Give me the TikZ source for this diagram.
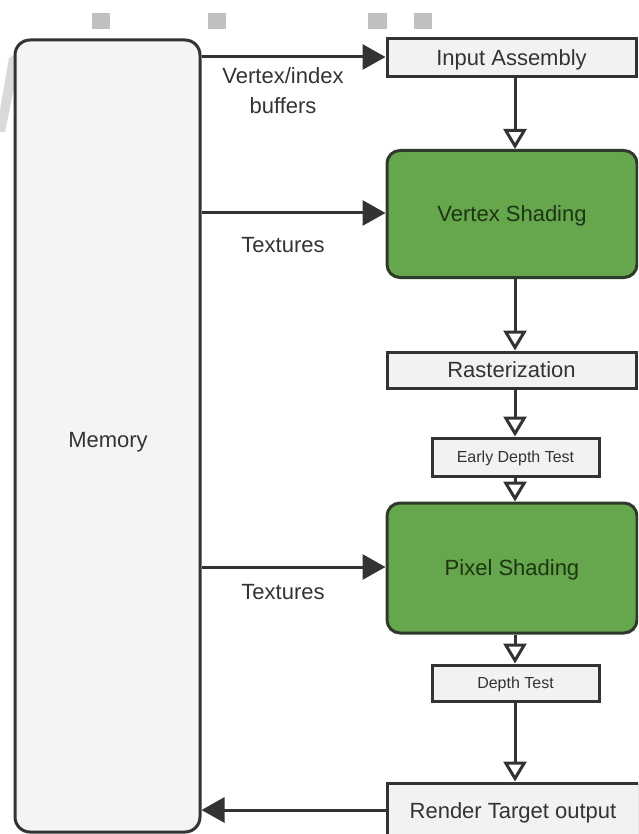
\documentclass[tikz,border=0pt]{standalone}
\usepackage{fontspec}
\setmainfont{Liberation Sans}
\usetikzlibrary{arrows.meta}
\definecolor{ink}{HTML}{333333}
\definecolor{boxgrey}{HTML}{F2F2F2}
\definecolor{memgrey}{HTML}{F4F4F4}
\definecolor{shadegreen}{HTML}{66A64C}
\definecolor{shadetext}{HTML}{1C3512}
\definecolor{shadeedge}{HTML}{2F3A2B}
\definecolor{marker}{HTML}{C0C0C0}
\tikzset{
  capcentred/.style={text height=15.8pt, text depth=0pt},
  smallcap/.style={text height=11.5pt, text depth=0pt},
  stage/.style={draw=ink, line width=3pt, fill=boxgrey, rectangle, inner sep=0pt,
    text=ink, font=\fontsize{22}{26}\selectfont, capcentred},
  smallstage/.style={stage, font=\fontsize{16}{19}\selectfont, smallcap},
  shader/.style={draw=shadeedge, line width=3pt, fill=shadegreen, rounded corners=13pt,
    rectangle, inner sep=0pt, text=shadetext, font=\fontsize{22}{26}\selectfont, capcentred},
  memory/.style={draw=ink, line width=3pt, fill=memgrey, rounded corners=15pt,
    rectangle, inner sep=0pt},
  flow/.style={draw=ink, line width=3pt, -{Triangle[open, length=20pt, width=23pt, fill=white]}},
  feed/.style={draw=ink, line width=3pt, -{Triangle[length=23pt, width=25pt]}},
  tag/.style={text=ink, font=\fontsize{22}{30}\selectfont, align=center, inner sep=0pt},
}
\begin{document}
\begin{tikzpicture}[x=1pt, y=-1pt]
  \clip (0,0) rectangle (638,834);
  \fill[white] (0,0) rectangle (638,834);

  % small grey markers along the top edge
  \foreach \a/\b in {92/110, 208/226, 368/387, 414/432}
    \fill[marker] (\a,13) rectangle (\b,29);
  % faint stroke at the left margin
  \fill[gray!30] (9,58) -- (16,54) -- (16,78) -- (5,132) -- (0,132) -- (0,110) -- cycle;

  % memory block
  \node[memory, minimum width=185pt, minimum height=792pt] (mem) at (107.5,436) {};
  \node[tag, capcentred] (memlabel) at (108,440) {Memory};

  % pipeline stages
  \coordinate (axis) at (515,0);
  \node[stage, minimum width=249pt, minimum height=38pt] (ia) at (511.5,58) {Input Assembly};
  \node[shader, minimum width=250pt, minimum height=127pt] (vs) at (512,214) {Vertex Shading};
  \node[stage, minimum width=249pt, minimum height=36pt] (ras) at (511.5,370) {Rasterization};
  \node[smallstage, minimum width=167pt, minimum height=38pt] (edt) at (515.5,457) {Early Depth Test};
  \node[shader, minimum width=250pt, minimum height=130pt] (ps) at (512,568) {Pixel Shading};
  \node[smallstage, minimum width=167pt, minimum height=36pt] (dt) at (515.5,683) {Depth Test};
  \node[stage, minimum width=252pt, minimum height=64pt, text depth=8pt] (rt) at (513,815) {Render Target output};

  % flow down the pipeline
  \draw[flow] (ia.south -| axis) -- (vs.north -| axis);
  \draw[flow] (vs.south -| axis) -- (ras.north -| axis);
  \draw[flow] (ras.south -| axis) -- (edt.north -| axis);
  \draw[flow] (edt.south -| axis) -- (ps.north -| axis);
  \draw[flow] (ps.south -| axis) -- (dt.north -| axis);
  \draw[flow] (dt.south -| axis) -- (rt.north -| axis);

  % memory traffic
  \coordinate (iain) at ([yshift=1pt]ia.west);
  \coordinate (vsin) at ([yshift=1pt]vs.west);
  \coordinate (psin) at ([yshift=1pt]ps.west);
  \coordinate (rtout) at ([yshift=5pt]rt.west);
  \draw[feed] (mem.east |- iain) -- (iain);
  \draw[feed] (mem.east |- vsin) -- (vsin);
  \draw[feed] (mem.east |- psin) -- (psin);
  \draw[feed] (rtout) -- (mem.east |- rtout);

  % labels on the memory links
  \node[tag] (lbuf) at (283,91) {Vertex/index\\buffers};
  \node[tag] (ltex1) at (283,245) {Textures};
  \node[tag] (ltex2) at (283,592) {Textures};
\end{tikzpicture}
\end{document}
